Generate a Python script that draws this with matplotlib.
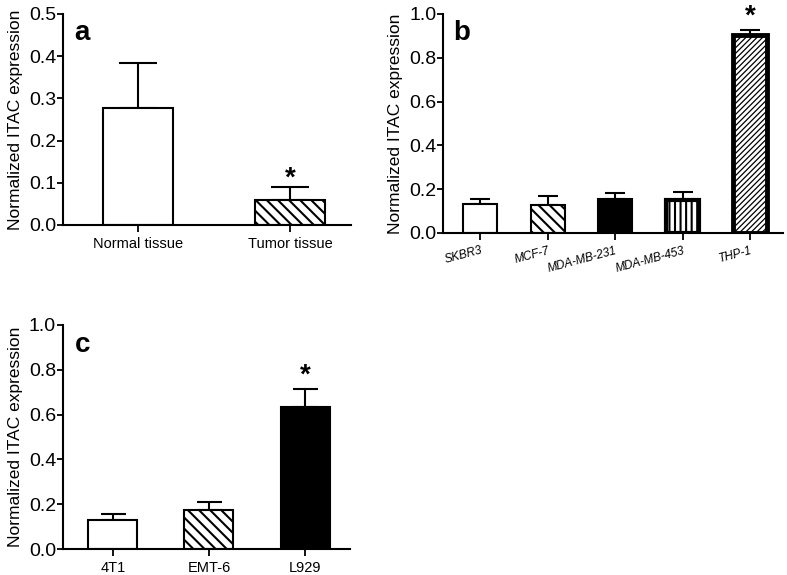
import matplotlib.pyplot as plt

plt.rcParams['font.family'] = ['Liberation Sans', 'DejaVu Sans']
plt.rcParams['hatch.linewidth'] = 1.5

# panel a
a_labels = ['Normal tissue', 'Tumor tissue']
a_means = [0.278, 0.060]
a_tops = [0.385, 0.090]

# panel b
b_labels = ['SKBR3', 'MCF-7', 'MDA-MB-231', 'MDA-MB-453', 'THP-1']
b_means = [0.131, 0.130, 0.154, 0.152, 0.903]
b_tops = [0.154, 0.169, 0.181, 0.185, 0.928]

# panel c
c_labels = ['4T1', 'EMT-6', 'L929']
c_means = [0.131, 0.172, 0.636]
c_tops = [0.158, 0.212, 0.713]

ylab = 'Normalized ITAC expression'

fig = plt.figure(figsize=(7.87, 5.75), dpi=100)
ax_a = fig.add_axes([0.080, 0.6087, 0.366, 0.367])
ax_b = fig.add_axes([0.563, 0.5948, 0.432, 0.381])
ax_c = fig.add_axes([0.080, 0.0452, 0.365, 0.3896])


def style(ax):
    for s in ['top', 'right']:
        ax.spines[s].set_visible(False)
    for s in ['left', 'bottom']:
        ax.spines[s].set_linewidth(1.5)
    ax.tick_params(axis='y', width=1.3, length=4, labelsize=14, pad=1)
    ax.tick_params(axis='x', width=1.3, length=5)
    ax.set_ylabel(ylab, fontsize=12.5, labelpad=4)


def bars(ax, means, tops, width, hatches, faces, lws, capsize, hlw=None):
    x = list(range(len(means)))
    err = [[0] * len(means), [t - m for t, m in zip(tops, means)]]
    ax.errorbar(x, means, yerr=err, fmt='none', ecolor='black', elinewidth=1.5,
                capsize=capsize, capthick=1.5, zorder=1)
    for i in x:
        b = ax.bar(i, means[i], width=width, color=faces[i], edgecolor='black',
                   hatch=hatches[i], linewidth=lws[i], zorder=2)
        if hlw and hlw[i] and hasattr(b[0], 'set_hatch_linewidth'):
            b[0].set_hatch_linewidth(hlw[i])
    return x


# a
x = bars(ax_a, a_means, a_tops, 0.46, [None, '\\\\\\'], ['white', 'white'], [1.5, 1.5], 14)
style(ax_a)
ax_a.set_xlim(-0.493, 1.40)
ax_a.set_ylim(0, 0.5)
ax_a.set_yticks([0, 0.1, 0.2, 0.3, 0.4, 0.5])
ax_a.set_xticks(x)
ax_a.set_xticklabels(a_labels, fontsize=10.5)
ax_a.text(0.04, 0.97, 'a', transform=ax_a.transAxes, fontsize=20, fontweight='bold', va='top')
ax_a.text(1, a_tops[1] - 0.011, '*', ha='center', va='bottom', fontsize=20, fontweight='bold')

# b
x = bars(ax_b, b_means, b_tops, 0.5, [None, '\\\\\\', None, '|||', '//////'],
         ['white', 'white', 'black', 'white', 'white'], [1.5, 1.5, 1.5, 3, 3.5], 7.5,
         hlw=[None, None, None, None, 0.9])
style(ax_b)
ax_b.set_xlim(-0.55, 4.49)
ax_b.set_ylim(0, 1.0)
ax_b.set_yticks([0, 0.2, 0.4, 0.6, 0.8, 1.0])
ax_b.set_xticks(x)
ax_b.set_xticklabels(b_labels, fontsize=8.5, rotation=15, ha='right',
                     rotation_mode='anchor', style='italic')
ax_b.text(0.03, 0.97, 'b', transform=ax_b.transAxes, fontsize=20, fontweight='bold', va='top')
ax_b.text(4, b_tops[4] + 0.0, '*', ha='center', va='bottom', fontsize=20, fontweight='bold')

# c
x = bars(ax_c, c_means, c_tops, 0.51, [None, '\\\\\\', None], ['white', 'white', 'black'],
         [1.5, 1.5, 1.5], 9)
style(ax_c)
ax_c.set_xlim(-0.52, 2.47)
ax_c.set_ylim(0, 1.0)
ax_c.set_yticks([0, 0.2, 0.4, 0.6, 0.8, 1.0])
ax_c.set_xticks(x)
ax_c.set_xticklabels(c_labels, fontsize=10.5)
ax_c.text(0.04, 0.97, 'c', transform=ax_c.transAxes, fontsize=20, fontweight='bold', va='top')
ax_c.text(2, c_tops[2] + 0.003, '*', ha='center', va='bottom', fontsize=20, fontweight='bold')

for ax in [ax_a, ax_b, ax_c]:
    ax.yaxis.set_major_formatter(plt.FuncFormatter(lambda v, p: '%.1f' % v))

fig.savefig('out.png', dpi=100)
